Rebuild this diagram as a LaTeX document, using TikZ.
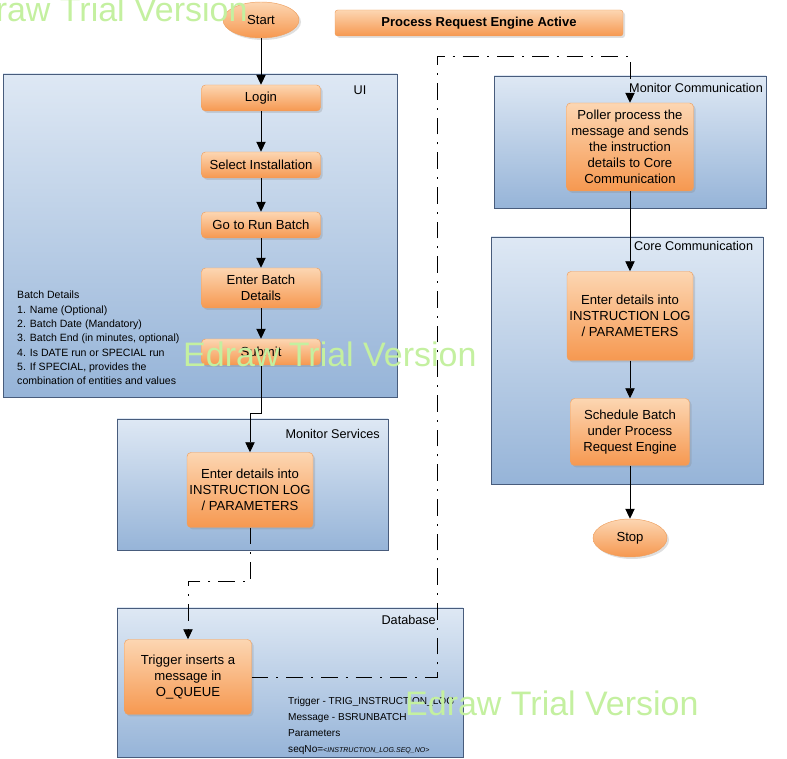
\documentclass[tikz,border=0pt]{standalone}
\usepackage{fontspec}
\setmainfont{Liberation Sans}
\usetikzlibrary{arrows.meta,shapes.geometric,shadows}
\definecolor{lanetop}{RGB}{222,232,244}
\definecolor{lanebot}{RGB}{150,180,216}
\definecolor{laneline}{RGB}{72,92,124}
\definecolor{boxtop}{RGB}{252,214,178}
\definecolor{boxbot}{RGB}{246,152,80}
\definecolor{boxline}{RGB}{238,160,96}
\definecolor{trialgreen}{RGB}{196,240,160}
\tikzset{
  lane/.style = {draw = laneline, top color = lanetop, bottom color = lanebot},
  lanelabel/.style = {font = \fontsize{10.8}{13}\selectfont, inner sep = 0pt},
  proc/.style = {draw = boxline, top color = boxtop, bottom color = boxbot, rounded corners = 1.2mm,
    align = center, font = \fontsize{11.2}{13.6}\selectfont, inner sep = 1pt,
    drop shadow = {opacity = 0.25, shadow xshift = 0.6mm, shadow yshift = -0.6mm}},
  term/.style = {ellipse, draw = boxline, top color = boxtop, bottom color = boxbot,
    font = \fontsize{11.2}{13}\selectfont, inner sep = 0pt,
    drop shadow = {opacity = 0.25, shadow xshift = 0.6mm, shadow yshift = -0.6mm}},
  arr/.style = {-{Triangle[length = 3mm, width = 2.8mm]}, thick},
  dashdot/.style = {thick, dash pattern = on 5mm off 2.4mm on 0.6mm off 2.4mm},
  trial/.style = {text = trialgreen, font = \fontsize{29}{29}\selectfont, anchor = west, inner sep = 0pt}
}
\begin{document}
\begin{tikzpicture}[x = 0.3mm, y = -0.3mm]
\useasboundingbox (0,0) rectangle (787,759);
\draw[lane] (3,74) rectangle (397,397);
\draw[lane] (117,419) rectangle (388,550);
\draw[lane] (117,608) rectangle (463,757);
\draw[lane] (494,76) rectangle (766,208);
\draw[lane] (491,237) rectangle (763,484);
\node[lanelabel] (uilbl) at (360,90) {UI};
\node[lanelabel, anchor = east] (mslbl) at (380,434) {Monitor Services};
\node[lanelabel, anchor = east] (dblbl) at (436,620) {Database};
\node[lanelabel, anchor = west] (mclbl) at (629,88) {Monitor Communication};
\node[lanelabel, anchor = west] (cclbl) at (634,246) {Core Communication};
\node[term, minimum width = 22.8mm, minimum height = 10.8mm] (start) at (261,20) {Start};
\node[proc, rounded corners = 0.8mm, minimum width = 86.4mm, minimum height = 7.8mm, font = \fontsize{11.1}{13}\selectfont\bfseries] (engine) at (479,23) {Process Request Engine Active};
\node[proc, minimum width = 35.7mm, minimum height = 7.8mm] (login) at (261,98) {Login};
\node[proc, minimum width = 35.7mm, minimum height = 7.8mm] (selinst) at (261,165) {Select Installation};
\node[proc, minimum width = 35.7mm, minimum height = 7.8mm] (runbatch) at (261,225) {Go to Run Batch};
\node[proc, minimum width = 35.7mm, minimum height = 12mm] (entbatch) at (261,288) {Enter Batch\\Details};
\node[proc, minimum width = 35.7mm, minimum height = 7.8mm] (submit) at (261,352) {Submit};
\node[anchor = north west, align = left, inner sep = 0pt, font = \fontsize{9}{12.2}\selectfont] (batchdet) at (17,291) {Batch Details\\1. Name (Optional)\\2. Batch Date (Mandatory)\\3. Batch End (in minutes, optional)\\4. Is DATE run or SPECIAL run\\5. If SPECIAL, provides the\\combination of entities and values};
\node[proc, minimum width = 37.8mm, minimum height = 22.5mm] (msdet) at (250,490) {Enter details into\\INSTRUCTION LOG\\/ PARAMETERS};
\node[proc, minimum width = 38.1mm, minimum height = 22.5mm] (trig) at (188,677) {Trigger inserts a\\message in\\O\_QUEUE};
\node[anchor = north west, align = left, inner sep = 0pt, font = \fontsize{8.6}{13.6}\selectfont] (trigdet) at (288,697) {Trigger - TRIG\_INSTRUCTION\_LOG\\Message - BSRUNBATCH\\Parameters\\seqNo={\fontsize{6}{8}\selectfont\itshape <INSTRUCTION\_LOG.SEQ\_NO>}};
\node[proc, minimum width = 38.1mm, minimum height = 26.4mm] (poller) at (630,147) {Poller process the\\message and sends\\the instruction\\details to Core\\Communication};
\node[proc, minimum width = 37.8mm, minimum height = 26.7mm] (coreent) at (630,316) {Enter details into\\INSTRUCTION LOG\\/ PARAMETERS};
\node[proc, minimum width = 35.7mm, minimum height = 20.1mm] (sched) at (630,432) {Schedule Batch\\under Process\\Request Engine};
\node[term, minimum width = 22.2mm, minimum height = 11.4mm] (stop) at (630,538) {Stop};
\foreach \a/\b in {start/login, login/selinst, selinst/runbatch, runbatch/entbatch, entbatch/submit, poller/coreent, coreent/sched, sched/stop}
  \draw[arr] (\a) -- (\b);
\draw[arr] (submit.south) -- ++(0,48) -| (msdet.north);
\draw[arr, dashdot] (msdet.south) -- ++(0,54) -| (trig.north);
\coordinate (bend) at (437,56);
\draw[arr, dashdot] (trig.east) -| (bend) -| (poller.north);
\node[trial] (trial1) at (-46,9) {Edraw Trial Version};
\node[trial] (trial2) at (183,354) {Edraw Trial Version};
\node[trial] (trial3) at (405,703) {Edraw Trial Version};
\end{tikzpicture}
\end{document}
